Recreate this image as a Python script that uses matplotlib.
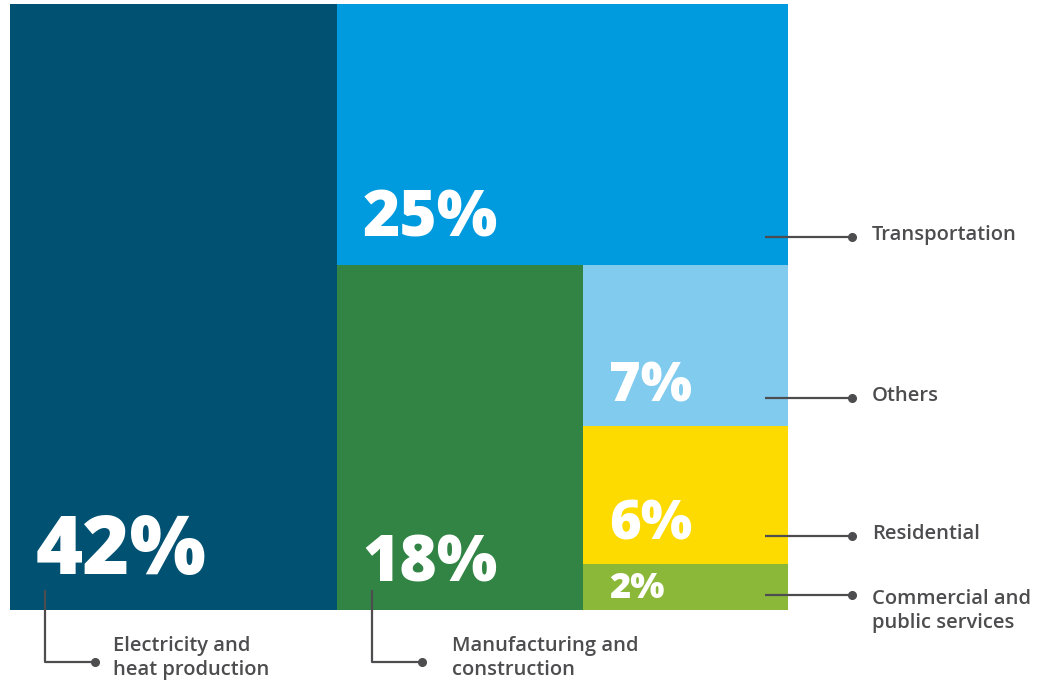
#!/usr/bin/env python3
"""
Treemap of emissions shares by sector, with leader-line labels.
"""

import matplotlib.pyplot as plt
from matplotlib.patches import Rectangle

# data
sectors = ['Electricity and\nheat production', 'Transportation',
           'Manufacturing and\nconstruction', 'Others', 'Residential',
           'Commercial and\npublic services']
shares = [42, 25, 18, 7, 6, 2]
colors = ['#005172', '#009ADE', '#318444', '#80CBEE', '#FDDB00', '#8CB83A']
pct_sizes = [58, 46, 46, 39, 39, 26]

TEXT = '#4D4D4F'
plt.rcParams['font.family'] = ['Open Sans', 'DejaVu Sans']


def layout(vals, x0, y0, w, h):
    """Fixed treemap layout: big block left, top strip, left block, stacked rest."""
    total = sum(vals)
    rects = []
    w0 = w * vals[0] / total
    rects.append((x0, y0, w0, h))
    rest = total - vals[0]
    x1, w1 = x0 + w0, w - w0
    h1 = h * vals[1] / rest
    rects.append((x1, y0, w1, h1))
    rest2 = rest - vals[1]
    y2, h2 = y0 + h1, h - h1
    w2 = w1 * vals[2] / rest2
    rects.append((x1, y2, w2, h2))
    rest3 = rest2 - vals[2]
    x3, w3 = x1 + w2, w1 - w2
    yy = y2
    for v in vals[3:]:
        hh = h2 * v / rest3
        rects.append((x3, yy, w3, hh))
        yy += hh
    return rects


def main():
    W, H = 1055, 683
    fig = plt.figure(figsize=(W / 100, H / 100), dpi=100)
    ax = fig.add_axes([0, 0, 1, 1])
    ax.set_xlim(0, W)
    ax.set_ylim(H, 0)
    ax.axis('off')

    rects = layout(shares, 10, 4, 778, 606)
    for (x, y, w, h), c, v, fs in zip(rects, colors, shares, pct_sizes):
        ax.add_patch(Rectangle((x, y), w, h, facecolor=c, edgecolor='none'))
        pad = 0.62 * fs if h > 80 else 0.45 * fs
        ax.text(x + 26, y + h - pad, f'{v}%', color='white', fontsize=fs,
                fontweight='heavy', va='baseline', ha='left')

    lw = 1.6
    # bottom leaders for the two left blocks
    for (x, y, w, h), name, gap in zip([rects[0], rects[2]],
                                       [sectors[0], sectors[2]], [18, 30]):
        lx = x + 35
        ax.plot([lx, lx, lx + 50], [y + h - 20, y + h + 52, y + h + 52],
                color=TEXT, lw=lw, solid_capstyle='butt')
        ax.plot(lx + 50, y + h + 52, 'o', color=TEXT, ms=5.5)
        ax.text(lx + 50 + gap, y + h + 48, name, color=TEXT, fontsize=14.5,
                fontweight='semibold', va='center', ha='left', linespacing=1.28)

    # right leaders
    for i in [1, 3, 4, 5]:
        x, y, w, h = rects[i]
        ly = y + h - (15 if h < 80 else 28)
        ax.plot([x + w - 23, 852], [ly, ly], color=TEXT, lw=lw,
                solid_capstyle='butt')
        ax.plot(852, ly, 'o', color=TEXT, ms=5.5)
        if '\n' in sectors[i]:
            ax.text(872, ly - 6, sectors[i], color=TEXT, fontsize=14.5,
                    fontweight='semibold', va='top', ha='left', linespacing=1.28)
        else:
            ax.text(872, ly - 2, sectors[i], color=TEXT, fontsize=14.5,
                    fontweight='semibold', va='center', ha='left')

    plt.savefig('out.png', dpi=100)


if __name__ == "__main__":
    main()
